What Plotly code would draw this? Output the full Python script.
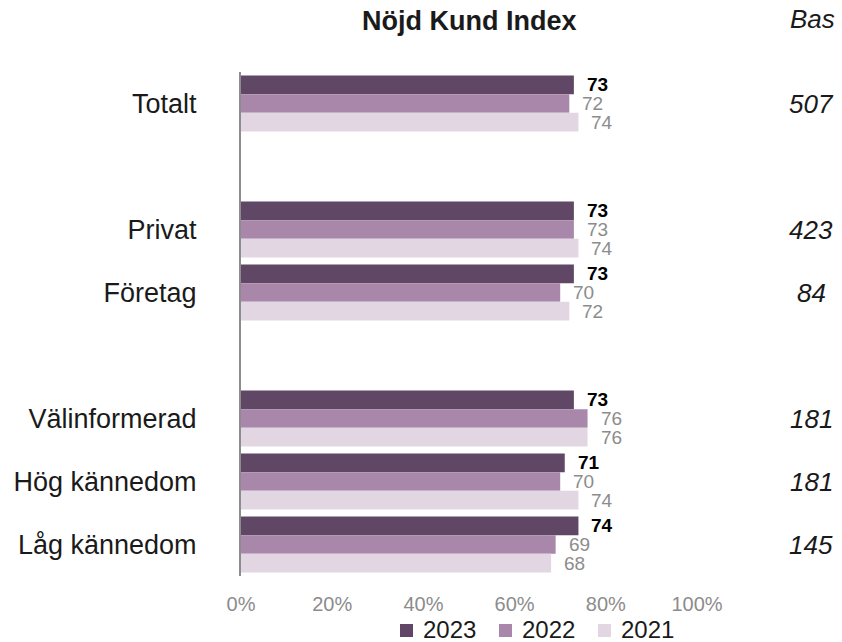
import plotly.graph_objects as go

categories = ["Totalt", "Privat", "Företag", "Välinformerad", "Hög kännedom", "Låg kännedom"]
category_order = ["Totalt", " ", "Privat", "Företag", "  ", "Välinformerad", "Hög kännedom", "Låg kännedom"]
years = ["2023", "2022", "2021"]
v2023 = [73, 73, 73, 73, 71, 74]
v2022 = [72, 73, 70, 76, 70, 69]
v2021 = [74, 74, 72, 76, 74, 68]
bas = [507, 423, 84, 181, 181, 145]
x_ticks = [0, 20, 40, 60, 80, 100]

colors = ["#614766", "#a987aa", "#e3d6e3"]
label_colors = ["#000000", "#8c8c8c", "#8c8c8c"]
label_bold = [True, False, False]
series = [v2023, v2022, v2021]

FONT = "Arial, Liberation Sans, sans-serif"
W, H = 842, 642
PL, PR, PT, PB = 241, 697, 72, 576  # plot area in pixels


def px_to_paper_x(px):
    return (px - PL) / (PR - PL)


def px_to_paper_y(py):
    return (PB - py) / (PB - PT)


fig = go.Figure()
for name, vals, col in zip(years, series, colors):
    fig.add_trace(go.Bar(
        y=categories, x=vals, name=name, orientation="h",
        marker=dict(color=col, line=dict(width=0)),
        hoverinfo="skip", showlegend=False,
    ))

annotations = []
shapes = []
shifts = [19, 0, -19]
for si, vals in enumerate(series):
    for c, v in zip(categories, vals):
        txt = f"<b>{v}</b>" if label_bold[si] else f"{v}"
        annotations.append(dict(
            x=v, y=c, xref="x", yref="y", text=txt, showarrow=False,
            xanchor="left", yanchor="middle", xshift=11, yshift=shifts[si],
            font=dict(family=FONT, size=19, color=label_colors[si]),
        ))

BAS_X = px_to_paper_x(811)
for c, b in zip(categories, bas):
    annotations.append(dict(
        x=BAS_X, y=c, xref="paper", yref="y", text=f"<i>{b}</i>", showarrow=False,
        xanchor="center", yanchor="middle",
        font=dict(family=FONT, size=26, color="#1a1a1a"),
    ))

annotations.append(dict(
    x=px_to_paper_x(469), y=px_to_paper_y(21), xref="paper", yref="paper",
    text="<b>Nöjd Kund Index</b>",
    showarrow=False, xanchor="center", yanchor="middle",
    font=dict(family=FONT, size=27, color="#1a1a1a"),
))
annotations.append(dict(
    x=px_to_paper_x(812), y=px_to_paper_y(19), xref="paper", yref="paper", text="<i>Bas</i>",
    showarrow=False, xanchor="center", yanchor="middle",
    font=dict(family=FONT, size=26, color="#1a1a1a"),
))

# legend (square swatch + label) below the axis
legend_starts = [400, 499, 598]
LEG_Y = 630
for name, col, x0 in zip(years, colors, legend_starts):
    shapes.append(dict(
        type="rect", xref="paper", yref="paper",
        x0=px_to_paper_x(x0), x1=px_to_paper_x(x0 + 13),
        y0=px_to_paper_y(LEG_Y + 7), y1=px_to_paper_y(LEG_Y - 6),
        fillcolor=col, line=dict(width=0),
    ))
    annotations.append(dict(
        x=px_to_paper_x(x0 + 21), y=px_to_paper_y(LEG_Y - 1), xref="paper", yref="paper",
        text=name, showarrow=False, xanchor="left", yanchor="middle",
        font=dict(family=FONT, size=24, color="#1a1a1a"),
    ))

fig.update_layout(
    width=W, height=H,
    margin=dict(l=PL, r=W - PR, t=PT, b=H - PB),
    paper_bgcolor="white", plot_bgcolor="white",
    barmode="group", bargap=0.11, bargroupgap=0,
    font=dict(family=FONT, color="#1a1a1a"),
    showlegend=False,
    annotations=annotations,
    shapes=shapes,
    xaxis=dict(
        range=[0, 100], tickvals=x_ticks, ticktext=[f"{t}%" for t in x_ticks],
        showgrid=False, zeroline=False, showline=False,
        tickfont=dict(family=FONT, size=20, color="#8c8c8c"),
        ticks="", ticklabelstandoff=14,
    ),
    yaxis=dict(
        categoryorder="array", categoryarray=category_order,
        autorange="reversed", showgrid=False, zeroline=False,
        showline=True, linecolor="#8c8c8c", linewidth=2,
        tickfont=dict(family=FONT, size=27, color="#1a1a1a"),
        ticks="", ticklabelstandoff=37,
    ),
)

fig.write_html("out.html")
